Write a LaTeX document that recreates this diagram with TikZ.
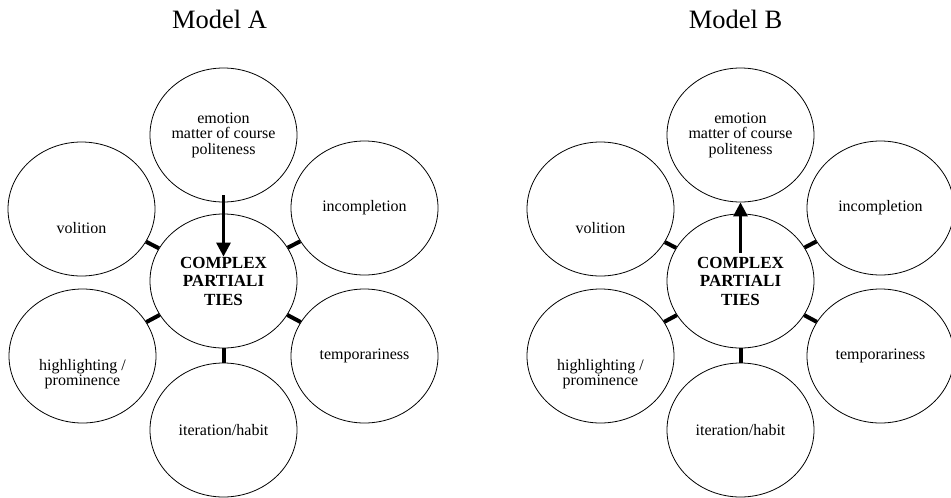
\documentclass[tikz,border=0pt]{standalone}
\usepackage{fontspec}
\setmainfont{Liberation Serif}
\usetikzlibrary{arrows.meta,shapes.geometric}

\begin{document}
\begin{tikzpicture}[x=1pt,y=-1pt,line width=0.8pt]
    \tikzstyle{bubble}=[ellipse,draw,minimum width=147pt,minimum height=134pt,inner sep=0pt,align=center,font=\fontsize{16}{15.5}\selectfont]
    \tikzstyle{txt}=[align=center,inner sep=0pt,font=\fontsize{16}{15.5}\selectfont]
    \tikzstyle{hub}=[bubble,font=\fontsize{17}{18.5}\selectfont\bfseries]
    \tikzstyle{title}=[anchor=base,font=\fontsize{26.5}{30}\selectfont]
    \tikzstyle{bar}=[line width=4pt]
    \tikzstyle{push}=[line width=3pt,-{Triangle[width=14pt,length=14pt]}]

    \useasboundingbox (0,0) rectangle (951,498);

    % Model A
    \node[title] (atitle) at (219.5,28) {Model A};
    \node[hub]    (acore) at (223.5,281) {COMPLEX\\PARTIALI\\TIES};
    \node[bubble] (aemo)  at ([shift={(0,-146)}]acore) {emotion\\matter of course\\politeness};
    \node[bubble,label={[txt,yshift=-19pt]center:volition}] (avol) at ([shift={(-142,-72)}]acore) {};
    \node[bubble] (ainc)  at ([shift={(141,-73)}]acore) {incompletion};
    \node[bubble,label={[txt,yshift=-18pt]center:highlighting /\\prominence}] (ahigh) at ([shift={(-141,75)}]acore) {};
    \node[bubble] (atemp) at ([shift={(141,75)}]acore) {temporariness};
    \node[bubble] (aiter) at ([shift={(0,149)}]acore) {iteration/habit};

    \draw[bar] (acore) -- (avol);
    \draw[bar] (acore) -- (ainc);
    \draw[bar] (acore) -- (ahigh);
    \draw[bar] (acore) -- (atemp);
    \draw[bar] (acore) -- (aiter);
    \draw[push] ([yshift=7pt]aemo.south) -- ([yshift=-43pt]acore.north);

    % Model B
    \node[title] (btitle) at (735.5,28) {Model B};
    \node[hub]    (bcore) at (740.5,281) {COMPLEX\\PARTIALI\\TIES};
    \node[bubble] (bemo)  at ([shift={(0,-146)}]bcore) {emotion\\matter of course\\politeness};
    \node[bubble,label={[txt,yshift=-19pt]center:volition}] (bvol) at ([shift={(-140,-72)}]bcore) {};
    \node[bubble] (binc)  at ([shift={(140,-73)}]bcore) {incompletion};
    \node[bubble,label={[txt,yshift=-18pt]center:highlighting /\\prominence}] (bhigh) at ([shift={(-140,75)}]bcore) {};
    \node[bubble] (btemp) at ([shift={(140,75)}]bcore) {temporariness};
    \node[bubble] (biter) at ([shift={(0,149)}]bcore) {iteration/habit};

    \draw[bar] (bcore) -- (bvol);
    \draw[bar] (bcore) -- (binc);
    \draw[bar] (bcore) -- (bhigh);
    \draw[bar] (bcore) -- (btemp);
    \draw[bar] (bcore) -- (biter);
    \draw[push] ([yshift=-39pt]bcore.north) -- (bemo.south);
\end{tikzpicture}
\end{document}
